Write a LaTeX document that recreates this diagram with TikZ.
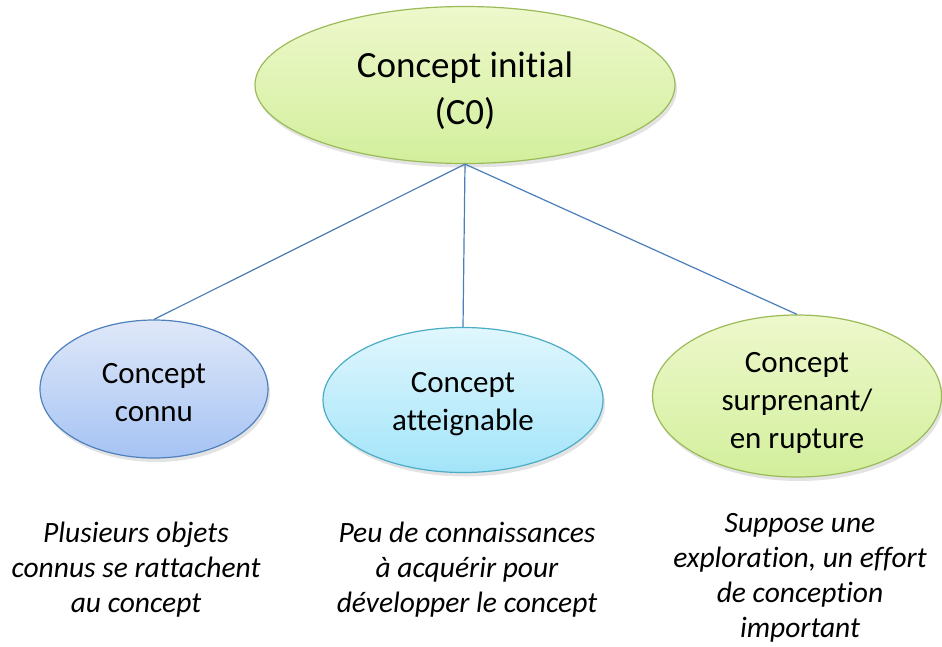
\documentclass[tikz,border=0pt]{standalone}
\usepackage{fontspec}
\setmainfont[Ligatures={CommonOff}]{Carlito}
\usetikzlibrary{shapes.geometric,shadows}
\definecolor{grnB}{HTML}{9BBB59}
\definecolor{grnT}{HTML}{EEF8CC}
\definecolor{grnD}{HTML}{D2EF9C}
\definecolor{bluB}{HTML}{4F81BD}
\definecolor{bluT}{HTML}{DFE8F8}
\definecolor{bluD}{HTML}{A6C3F4}
\definecolor{cyaB}{HTML}{4BACC6}
\definecolor{cyaT}{HTML}{E0F7FD}
\definecolor{cyaD}{HTML}{A3E4F9}
\definecolor{lineC}{HTML}{4A7EBB}
\tikzset{
  x=1pt,y=-1pt,
  oval/.style={ellipse, inner sep=0pt, line width=1.2pt,
    drop shadow={opacity=0.22, shadow xshift=2pt, shadow yshift=-4pt}},
  greenoval/.style={oval, draw=grnB, top color=grnT, bottom color=grnD},
  blueoval/.style={oval, draw=bluB, top color=bluT, bottom color=bluD},
  cyanoval/.style={oval, draw=cyaB, top color=cyaT, bottom color=cyaD},
  link/.style={draw=lineC, line width=1.2pt},
  note/.style={align=center, font=\fontsize{29.5}{35}\selectfont\itshape, inner sep=0pt},
  midtext/.style={align=center, inner sep=0pt, font=\fontsize{31}{38}\selectfont}
}
\begin{document}
\begin{tikzpicture}
\useasboundingbox (0,0) rectangle (942,646);
\node[greenoval, minimum width=420pt, minimum height=157pt] (top) at (465,85) {};
\node[align=center, inner sep=0pt, font=\fontsize{37}{47}\selectfont] (topT) at (465,91) {Concept initial\\(C0)};
\node[blueoval, minimum width=228pt, minimum height=138pt] (left) at (154,389) {};
\node[midtext] (leftT) at (154,393) {Concept\\connu};
\node[cyanoval, minimum width=280pt, minimum height=145pt] (midn) at (463,400) {};
\node[midtext] (midT) at (463,404) {Concept\\atteignable};
\node[greenoval, minimum width=289pt, minimum height=162pt] (right) at (797,396) {};
\node[midtext] (rightT) at (797,403) {Concept\\surprenant/\\en rupture};
\draw[link] (top.south) -- (left.north);
\draw[link] (top.south) -- (midn.north);
\draw[link] (top.south) -- (right.north);
\node[note] (n1) at (136,570) {Plusieurs objets\\connus se rattachent\\au concept};
\node[note] (n2) at (467,570) {Peu de connaissances\\à acquérir pour\\développer le concept};
\node[note] (n3) at (800,578) {Suppose une\\exploration, un effort\\de conception\\important};
\end{tikzpicture}
\end{document}
